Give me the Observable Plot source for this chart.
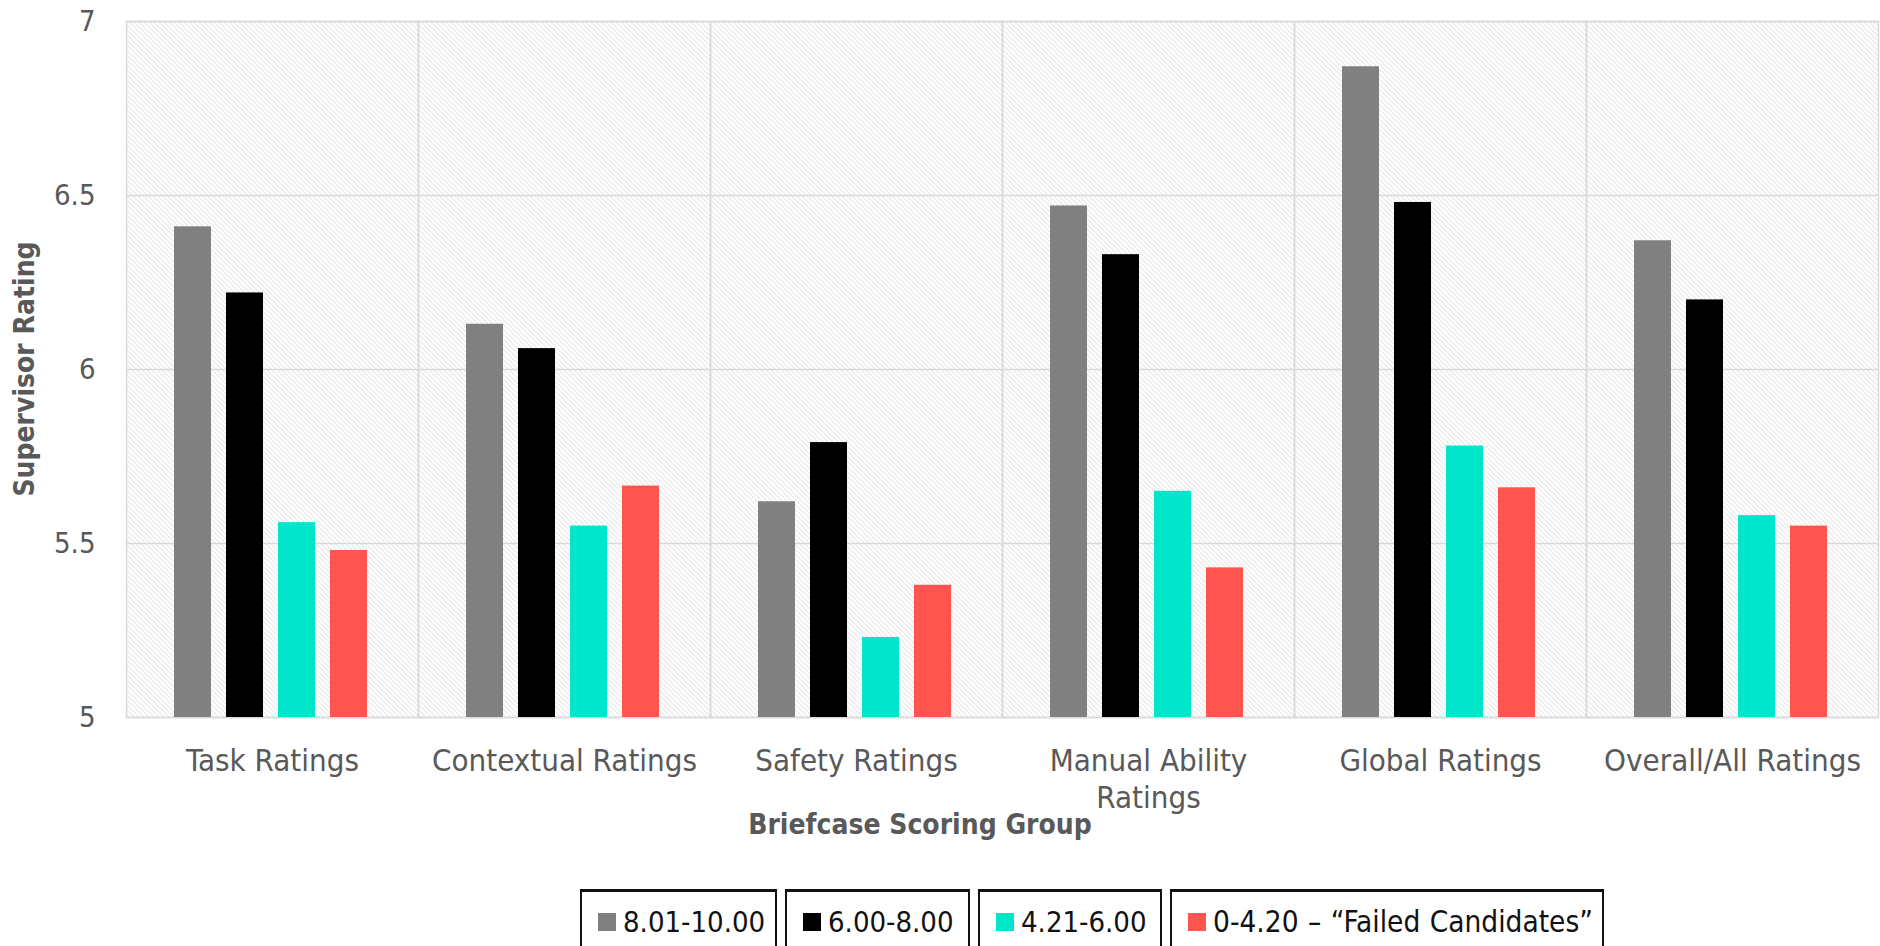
<!DOCTYPE html>
<html><head><meta charset="utf-8">
<script src="https://cdn.jsdelivr.net/npm/d3@7"></script>
<script src="https://cdn.jsdelivr.net/npm/@observablehq/plot@0.6"></script>
<style>
body{margin:0;background:#fff;font-family:"Liberation Sans Narrow","DejaVu Sans Condensed","Roboto Condensed",Roboto,sans-serif;font-stretch:condensed;}
#wrap{position:relative;width:1880px;height:946px;overflow:hidden;}
#legend{position:absolute;left:580px;top:889px;display:flex;}
.item{box-sizing:border-box;display:flex;align-items:center;border:2px solid #111;border-top-width:3px;padding:0 0 26px 16px;font-size:29px;color:#111;height:90px;margin-right:8px;white-space:nowrap;}
.sw{width:18px;height:18px;margin-right:7px;display:inline-block;flex:none;}
</style></head><body>
<div id="wrap"><div id="chart"></div><div id="legend"></div></div>
<script>
const categories = ["Task Ratings","Contextual Ratings","Safety Ratings","Manual Ability Ratings","Global Ratings","Overall/All Ratings"];
const series = ["8.01-10.00","6.00-8.00","4.21-6.00","0-4.20"];
const seriesLabels = ["8.01-10.00","6.00-8.00","4.21-6.00","0-4.20 \u2013 \u201cFailed Candidates\u201d"];
const colors = ["#808080","#000000","#00E6CA","#FF5450"];
const valsA = [6.41,6.13,5.62,6.47,6.87,6.37];
const valsB = [6.22,6.06,5.79,6.33,6.48,6.20];
const valsC = [5.56,5.55,5.23,5.65,5.78,5.58];
const valsD = [5.48,5.665,5.38,5.43,5.66,5.55];
const yTicks = [5,5.5,6,6.5,7];
const yLabel = "Supervisor Rating";
const xLabel = "Briefcase Scoring Group";
const legendWidths = [197,185,184,434];

const allVals = [valsA,valsB,valsC,valsD];
const data = [];
categories.forEach((c,i)=>series.forEach((s,j)=>data.push({category:c, series:s, value:allVals[j][i]})));

const font = '"Liberation Sans Narrow","DejaVu Sans Condensed","Roboto Condensed",Roboto,sans-serif';
const chart = Plot.plot({
  width:1880, height:880, marginLeft:124, marginRight:1, marginTop:21, marginBottom:163,
  style:{fontFamily:font, fontSize:"28px", color:"#595959", background:"#fff", fontStretch:"condensed"},
  fx:{domain:categories, padding:0, label:null, axis:null},
  x:{domain:series, paddingInner:0.284, paddingOuter:0.914, align:0.485, axis:null},
  y:{domain:[5,7], label:null},
  color:{domain:series, range:colors},
  marks:[
    Plot.frame({fill:"url(#hatch)"}),
    Plot.gridY(yTicks, {stroke:"#d9d9d9", strokeOpacity:1, strokeWidth:1.5}),
    Plot.frame({stroke:"#d9d9d9", strokeWidth:1.5}),
    Plot.barY(data, {fx:"category", x:"series", y1:5, y2:"value", fill:"series"}),
    Plot.axisY(yTicks, {tickSize:0, tickPadding:31, label:null, fontSize:29, fill:"#595959", tickFormat:d=>String(d)}),
    Plot.axisFx({anchor:"bottom", tickSize:0, tickPadding:27, label:null, fontSize:31, fill:"#595959", lineHeight:1.2,
      tickFormat:d=> d==="Manual Ability Ratings" ? "Manual Ability\nRatings" : d})
  ]
});
const svg = d3.select(chart);
const pat = svg.insert("defs",":first-child").append("pattern")
  .attr("id","hatch").attr("patternUnits","userSpaceOnUse").attr("width",5).attr("height",5);
pat.append("rect").attr("width",5).attr("height",5).attr("fill","#fff");
pat.append("path").attr("d","M-1,-1L6,6M-1,4L1,6M4,-1L6,1").attr("stroke","#d6d6d6").attr("stroke-width",1);
svg.append("text").attr("transform","translate(26,369) rotate(-90)").attr("text-anchor","middle")
  .attr("dominant-baseline","middle").attr("font-weight","bold").attr("font-size",28).attr("fill","#595959").text(yLabel);
svg.append("text").attr("x",920).attr("y",826).attr("text-anchor","middle")
  .attr("dominant-baseline","middle").attr("font-weight","bold").attr("font-size",28).attr("fill","#595959").text(xLabel);
document.getElementById("chart").appendChild(chart);

const lg = d3.select("#legend");
series.forEach((s,i)=>{
  const it = lg.append("div").attr("class","item").style("width",legendWidths[i]+"px");
  if (i === 3) it.style("font-size","29.5px").style("word-spacing","1px");
  it.append("span").attr("class","sw").style("background",colors[i]);
  it.append("span").text(seriesLabels[i]);
});
</script>
</body></html>
